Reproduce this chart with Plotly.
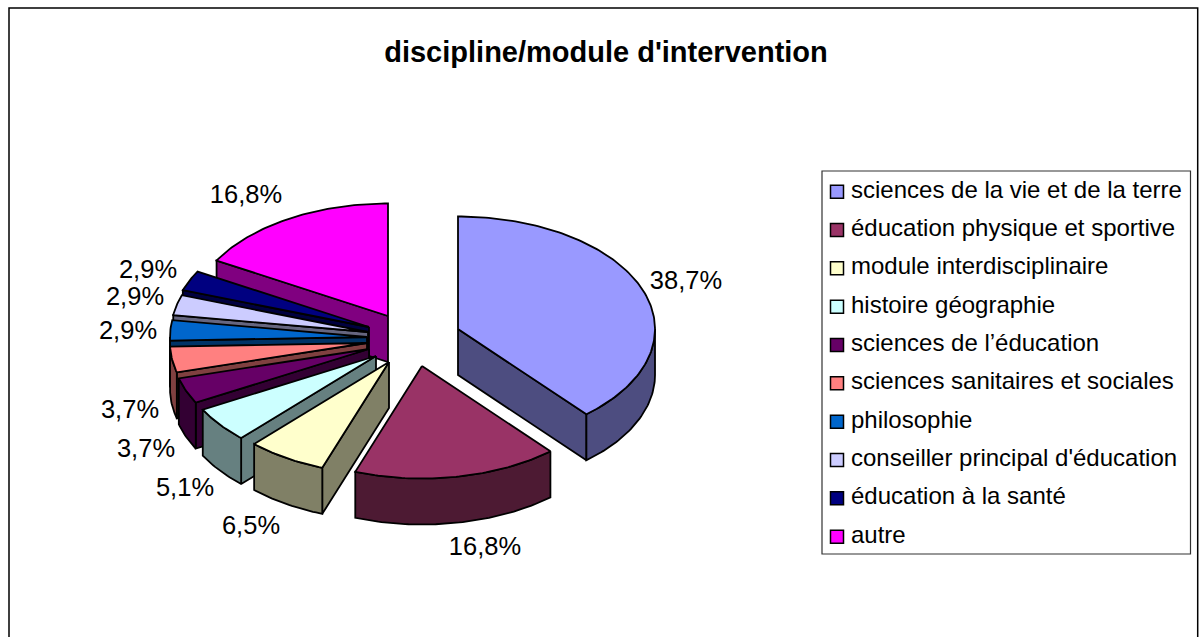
import numpy as np
import plotly.graph_objects as go

# ---- data ----
CATEGORIES = ["sciences de la vie et de la terre", "éducation physique et sportive",
              "module interdisciplinaire", "histoire géographie", "sciences de l’éducation",
              "sciences sanitaires et sociales", "philosophie",
              "conseiller principal d'éducation", "éducation à la santé", "autre"]
VALUES = [38.7, 16.8, 6.5, 5.1, 3.7, 3.7, 2.9, 2.9, 2.9, 16.8]
TITLE = "discipline/module d'intervention"

# ---- styles ----
TOP_COLORS = ["#9999FF", "#993366", "#FFFFCC", "#CCFFFF", "#660066",
              "#FF8080", "#0066CC", "#CCCCFF", "#000080", "#FF00FF"]
SIDE_COLORS = ["#4D4D80", "#4D1A33", "#808066", "#668080", "#330033",
               "#804040", "#003366", "#666680", "#000040", "#800080"]

# ---- layout geometry (canvas px) ----
W, H = 1204, 637
RX, RY, DEPTH = 197, 112.5, 46
APEX_X = [458, 422, 389, 376, 369, 367, 367, 368, 369, 388]
APEX_Y = [329, 366, 362, 356, 349, 343, 337, 332, 327, 316]
LABEL_X = [686, 485, 251, 185, 146, 130, 128, 135, 148, 246]
LABEL_Y = [283, 549, 528, 490, 451, 412, 333, 299, 272, 197]
LEGEND_SWATCH_X = 837
LEGEND_TEXT_X = 851
LEGEND_Y0, LEGEND_STEP = 191.7, 38.33
DRAW_ORDER = [9, 8, 7, 6, 5, 4, 3, 2, 1, 0]

cum = np.cumsum([0] + VALUES) / sum(VALUES) * 360.0


def rim(cx, cy, a0, a1, dz=0):
    n = max(2, int(abs(a1 - a0)) + 2)
    t = np.radians(np.linspace(a0, a1, n))
    return cx + RX * np.sin(t), cy - RY * np.cos(t) + dz


def poly(x, y, fill, name):
    return go.Scatter(x=np.r_[x, x[0]], y=np.r_[y, y[0]], mode="lines", fill="toself",
                      fillcolor=fill, line=dict(color="black", width=1.8),
                      hoverinfo="skip", showlegend=False, name=name)


fig = go.Figure()
for i in DRAW_ORDER:
    a0, a1 = cum[i], cum[i + 1]
    cx, cy = APEX_X[i], APEX_Y[i]
    name = CATEGORIES[i]
    for ang, visible in ((a0, np.sin(np.radians(a0)) < -1e-6), (a1, np.sin(np.radians(a1)) > 1e-6)):
        if visible:
            ex, ey = rim(cx, cy, ang, ang)
            fig.add_trace(poly(np.array([cx, ex[0], ex[0], cx]),
                               np.array([cy, ey[0], ey[0] + DEPTH, cy + DEPTH]),
                               SIDE_COLORS[i], name))
    b0, b1 = max(a0, 90), min(a1, 270)
    if b1 > b0:
        tx, ty = rim(cx, cy, b0, b1)
        lx, ly = rim(cx, cy, b1, b0, DEPTH)
        fig.add_trace(poly(np.r_[tx, lx], np.r_[ty, ly], SIDE_COLORS[i], name))
    tx, ty = rim(cx, cy, a0, a1)
    fig.add_trace(poly(np.r_[cx, tx], np.r_[cy, ty], TOP_COLORS[i], name))

# percentage labels
fig.add_trace(go.Scatter(
    x=LABEL_X, y=LABEL_Y, mode="text",
    text=[f"{v:.1f}%".replace(".", ",") for v in VALUES],
    textposition="middle center", hoverinfo="skip", showlegend=False,
    textfont=dict(family="Liberation Sans", size=25.5, color="black")))

# legend swatches and labels
legend_y = [LEGEND_Y0 + k * LEGEND_STEP for k in range(len(CATEGORIES))]
fig.add_trace(go.Scatter(
    x=[LEGEND_SWATCH_X] * len(CATEGORIES), y=legend_y, mode="markers", hoverinfo="skip",
    showlegend=False,
    marker=dict(symbol="square", size=13, color=TOP_COLORS, line=dict(color="black", width=1.5))))
fig.add_trace(go.Scatter(
    x=[LEGEND_TEXT_X] * len(CATEGORIES), y=legend_y, mode="text",
    text=CATEGORIES, textposition="middle right", hoverinfo="skip", showlegend=False,
    textfont=dict(family="Liberation Sans", size=24, color="black")))

fig.update_layout(
    width=W, height=H, margin=dict(l=0, r=0, t=0, b=0),
    paper_bgcolor="white", plot_bgcolor="white", showlegend=False,
    title=dict(text=f"<b>{TITLE}</b>", x=606 / W, y=1 - 52 / H, xref="paper", yref="paper",
               xanchor="center", yanchor="middle",
               font=dict(family="Liberation Sans", size=29, color="black")),
    xaxis=dict(range=[0, W], visible=False, fixedrange=True),
    yaxis=dict(range=[H, 0], visible=False, fixedrange=True),
    shapes=[
        dict(type="rect", xref="x", yref="y", x0=822, x1=1190.5, y0=171, y1=554,
             line=dict(color="#333333", width=1.2), layer="below"),
        dict(type="rect", xref="x", yref="y", x0=9, x1=1197.7, y0=8, y1=660,
             line=dict(color="black", width=1.5), layer="below"),
    ],
)
fig.write_html("out.html", config={"displayModeBar": False},
               post_script="document.body.style.margin='0';document.body.style.overflow='hidden';")
